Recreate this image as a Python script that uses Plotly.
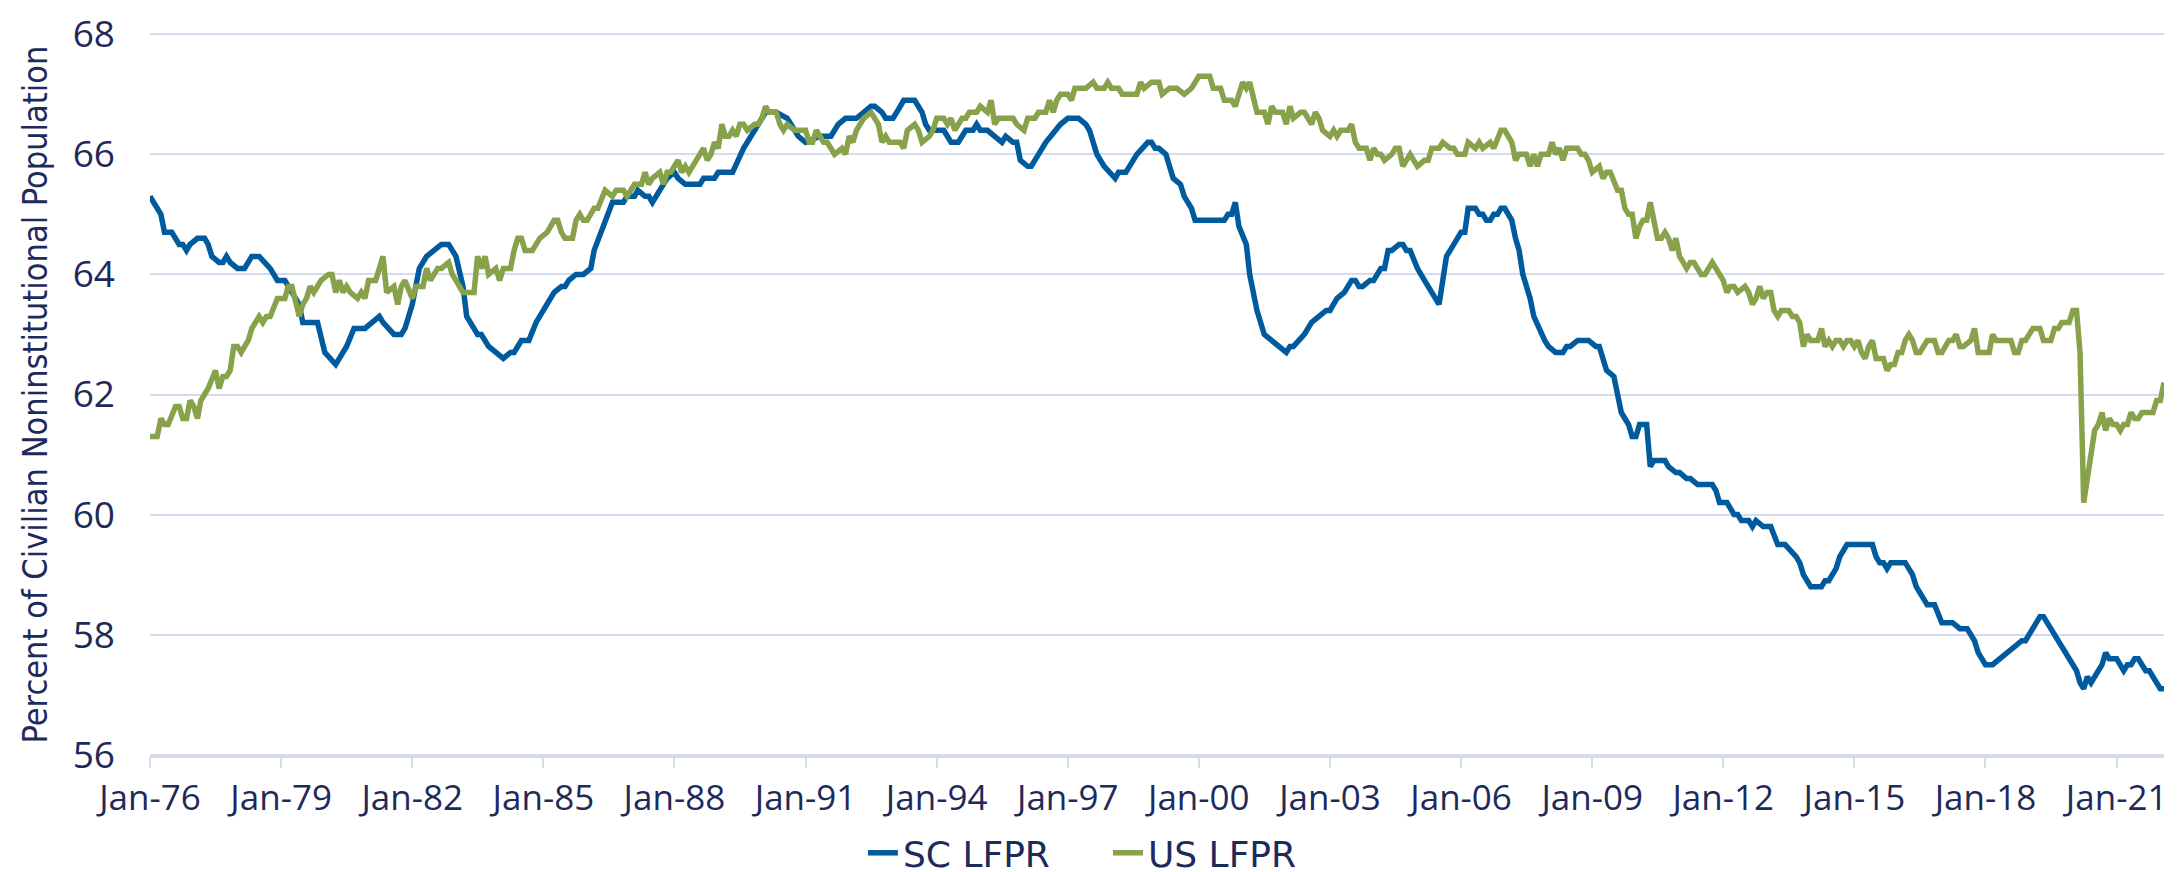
import pandas as pd
import plotly.graph_objects as go

sc_month = [0, 2, 3, 4, 6, 8, 9, 10, 11, 13, 15, 16, 17, 19, 20, 21, 22, 24, 26, 28, 30, 33, 35, 37, 39, 41, 42,
            46, 48, 51, 54, 56, 59, 61, 63, 64, 67, 69, 70, 72, 74, 76, 78, 80, 82, 84, 86, 87, 90, 91, 93, 95,
            97, 99, 100, 102, 104, 106, 108, 111, 113, 114, 115, 117, 119, 121, 122, 125, 127, 130, 131, 133,
            134, 136, 137, 138, 140, 142, 144, 145, 147, 148, 151, 152, 155, 156, 160, 163, 167, 169, 172, 175,
            176, 178, 180, 184, 187, 189, 191, 194, 196, 198, 199, 201, 202, 204, 205, 207, 210, 212, 213, 214,
            218, 220, 222, 224, 226, 227, 228, 230, 232, 234, 235, 237, 238, 239, 241, 242, 246, 250, 252, 255,
            257, 258, 259, 260, 262, 265, 266, 268, 271, 274, 275, 276, 277, 279, 280, 281, 283, 284, 286, 287,
            295, 296, 297, 298, 299, 301, 302, 304, 306, 308, 310, 312, 313, 314, 317, 319, 321, 323, 324, 326,
            328, 329, 330, 331, 332, 333, 335, 336, 338, 339, 340, 341, 343, 344, 345, 346, 348, 350, 354, 355,
            356, 358, 360, 361, 362, 364, 365, 366, 367, 368, 369, 370, 371, 372, 374, 375, 376, 377, 379, 380,
            382, 383, 384, 386, 388, 389, 390, 392, 395, 397, 398, 399, 400, 402, 403, 404, 405, 406, 407, 408,
            409, 411, 412, 413, 416, 417, 419, 420, 422, 423, 425, 429, 430, 431, 433, 435, 436, 437, 439, 440,
            441, 443, 445, 447, 449, 452, 453, 454, 456, 459, 460, 461, 463, 464, 466, 473, 474, 475, 476, 477,
            478, 482, 484, 485, 487, 488, 490, 492, 495, 497, 499, 501, 502, 503, 504, 506, 508, 510, 512, 514,
            515, 519, 520, 523, 525, 526, 528, 529, 530, 531, 532, 533, 535, 536, 537, 538, 540, 542, 543, 544,
            545, 546, 548, 549, 552, 553]
sc_value = [65.3, 65.1, 65.0, 64.7, 64.7, 64.5, 64.5, 64.4, 64.5, 64.6, 64.6, 64.5, 64.3, 64.2, 64.2, 64.3, 64.2,
            64.1, 64.1, 64.3, 64.3, 64.1, 63.9, 63.9, 63.7, 63.5, 63.2, 63.2, 62.7, 62.5, 62.8, 63.1, 63.1, 63.2,
            63.3, 63.2, 63.0, 63.0, 63.1, 63.5, 64.1, 64.3, 64.4, 64.5, 64.5, 64.3, 63.8, 63.3, 63.0, 63.0, 62.8,
            62.7, 62.6, 62.7, 62.7, 62.9, 62.9, 63.2, 63.4, 63.7, 63.8, 63.8, 63.9, 64.0, 64.0, 64.1, 64.4, 64.9,
            65.2, 65.2, 65.3, 65.3, 65.4, 65.3, 65.3, 65.2, 65.4, 65.6, 65.7, 65.6, 65.5, 65.5, 65.5, 65.6, 65.6,
            65.7, 65.7, 66.1, 66.5, 66.7, 66.7, 66.6, 66.5, 66.3, 66.2, 66.3, 66.3, 66.5, 66.6, 66.6, 66.7, 66.8,
            66.8, 66.7, 66.6, 66.6, 66.7, 66.9, 66.9, 66.7, 66.5, 66.4, 66.4, 66.2, 66.2, 66.4, 66.4, 66.5, 66.4,
            66.4, 66.3, 66.2, 66.3, 66.2, 66.2, 65.9, 65.8, 65.8, 66.2, 66.5, 66.6, 66.6, 66.5, 66.4, 66.2, 66.0,
            65.8, 65.6, 65.7, 65.7, 66.0, 66.2, 66.2, 66.1, 66.1, 66.0, 65.8, 65.6, 65.5, 65.3, 65.1, 64.9, 64.9,
            65.0, 65.0, 65.2, 64.8, 64.5, 64.0, 63.4, 63.0, 62.9, 62.8, 62.7, 62.8, 62.8, 63.0, 63.2, 63.3, 63.4,
            63.4, 63.6, 63.7, 63.8, 63.9, 63.9, 63.8, 63.8, 63.9, 63.9, 64.1, 64.1, 64.4, 64.4, 64.5, 64.5, 64.4,
            64.4, 64.1, 63.9, 63.5, 63.9, 64.3, 64.5, 64.7, 64.7, 65.1, 65.1, 65.0, 65.0, 64.9, 64.9, 65.0, 65.0,
            65.1, 65.1, 64.9, 64.6, 64.4, 64.0, 63.6, 63.3, 63.0, 62.9, 62.8, 62.7, 62.7, 62.8, 62.8, 62.9, 62.9,
            62.8, 62.8, 62.6, 62.4, 62.3, 62.0, 61.7, 61.6, 61.5, 61.3, 61.3, 61.5, 61.5, 60.8, 60.9, 60.9, 60.8,
            60.7, 60.7, 60.6, 60.6, 60.5, 60.5, 60.4, 60.2, 60.2, 60.0, 60.0, 59.9, 59.9, 59.8, 59.9, 59.8, 59.8,
            59.5, 59.5, 59.3, 59.2, 59.0, 58.8, 58.8, 58.9, 58.9, 59.1, 59.3, 59.5, 59.5, 59.3, 59.2, 59.2, 59.1,
            59.2, 59.2, 59.0, 58.8, 58.6, 58.5, 58.5, 58.2, 58.2, 58.1, 58.1, 57.9, 57.7, 57.6, 57.5, 57.5, 57.6,
            57.7, 57.8, 57.9, 57.9, 58.3, 58.3, 58.0, 57.8, 57.7, 57.5, 57.4, 57.2, 57.1, 57.3, 57.2, 57.4, 57.5,
            57.7, 57.6, 57.6, 57.4, 57.5, 57.5, 57.6, 57.6, 57.4, 57.4, 57.1, 57.1]

us_month = [0, 2, 3, 4, 5, 7, 8, 9, 10, 11, 12, 13, 14, 16, 18, 19, 20, 21, 22, 23, 24, 25, 27, 28, 30, 31, 32,
            33, 35, 37, 38, 39, 41, 42, 43, 44, 45, 47, 49, 50, 51, 52, 53, 54, 55, 57, 58, 59, 60, 62, 63, 64,
            65, 67, 68, 69, 70, 72, 73, 75, 76, 77, 79, 80, 82, 83, 84, 86, 87, 89, 90, 91, 92, 93, 95, 96, 97,
            99, 100, 101, 102, 103, 105, 107, 109, 111, 112, 113, 114, 116, 117, 118, 119, 120, 122, 123, 125,
            127, 128, 130, 131, 133, 135, 136, 137, 138, 140, 141, 142, 143, 145, 146, 147, 148, 150, 152, 153,
            154, 155, 156, 157, 158, 159, 160, 161, 162, 163, 164, 166, 167, 168, 169, 170, 172, 173, 174, 175,
            177, 180, 181, 182, 183, 185, 186, 188, 190, 191, 192, 193, 194, 196, 198, 200, 201, 202, 203, 206,
            207, 208, 210, 211, 212, 214, 215, 216, 218, 219, 220, 221, 223, 224, 225, 227, 228, 230, 231, 232,
            233, 237, 238, 240, 241, 243, 244, 246, 247, 248, 249, 250, 252, 253, 254, 257, 259, 260, 262, 263,
            264, 266, 267, 271, 272, 273, 275, 277, 278, 280, 282, 284, 286, 288, 291, 292, 294, 295, 297, 298,
            299, 300, 301, 302, 304, 306, 307, 308, 309, 311, 312, 313, 314, 316, 317, 319, 320, 321, 322, 324,
            325, 326, 327, 329, 330, 331, 332, 334, 335, 336, 337, 338, 339, 341, 342, 343, 344, 346, 348, 350,
            351, 352, 354, 355, 357, 358, 359, 361, 362, 364, 365, 366, 368, 369, 371, 372, 374, 375, 376, 378,
            379, 380, 381, 382, 384, 385, 386, 387, 388, 389, 392, 393, 394, 395, 396, 398, 399, 400, 401, 403,
            404, 405, 406, 407, 408, 409, 410, 411, 412, 413, 414, 415, 416, 417, 418, 419, 420, 421, 422, 423,
            424, 426, 427, 429, 430, 431, 432, 433, 434, 435, 436, 438, 439, 440, 441, 442, 443, 444, 445, 446,
            447, 448, 450, 451, 452, 453, 454, 455, 456, 458, 459, 460, 461, 462, 463, 464, 465, 466, 467, 468,
            469, 470, 471, 472, 473, 474, 476, 477, 478, 479, 480, 481, 482, 483, 484, 485, 486, 488, 490, 491,
            492, 494, 495, 496, 497, 498, 500, 501, 502, 505, 506, 507, 511, 512, 513, 514, 515, 517, 519, 520,
            522, 523, 524, 525, 527, 528, 529, 530, 531, 534, 535, 536, 537, 538, 539, 540, 541, 542, 543, 544,
            545, 546, 547, 550, 551, 552, 553]
us_value = [61.3, 61.3, 61.6, 61.5, 61.5, 61.8, 61.8, 61.6, 61.6, 61.9, 61.8, 61.6, 61.9, 62.1, 62.4, 62.1, 62.3,
            62.3, 62.4, 62.8, 62.8, 62.7, 62.9, 63.1, 63.3, 63.2, 63.3, 63.3, 63.6, 63.6, 63.8, 63.8, 63.3, 63.5,
            63.6, 63.8, 63.7, 63.9, 64.0, 64.0, 63.7, 63.9, 63.7, 63.8, 63.7, 63.6, 63.7, 63.6, 63.9, 63.9, 64.1,
            64.3, 63.7, 63.8, 63.5, 63.8, 63.9, 63.6, 63.8, 63.8, 64.1, 63.9, 64.1, 64.1, 64.2, 64.0, 63.9, 63.7,
            63.7, 63.7, 64.3, 64.1, 64.3, 64.0, 64.1, 63.9, 64.1, 64.1, 64.4, 64.6, 64.6, 64.4, 64.4, 64.6, 64.7,
            64.9, 64.9, 64.7, 64.6, 64.6, 64.9, 65.0, 64.9, 64.9, 65.1, 65.1, 65.4, 65.3, 65.4, 65.4, 65.3, 65.5,
            65.5, 65.7, 65.5, 65.6, 65.7, 65.5, 65.7, 65.7, 65.9, 65.7, 65.8, 65.7, 65.9, 66.1, 65.9, 66.0, 66.2,
            66.1, 66.5, 66.3, 66.3, 66.4, 66.3, 66.5, 66.5, 66.4, 66.5, 66.5, 66.6, 66.8, 66.7, 66.7, 66.5, 66.4,
            66.5, 66.4, 66.4, 66.2, 66.2, 66.4, 66.2, 66.2, 66.0, 66.1, 66.0, 66.3, 66.2, 66.4, 66.6, 66.7, 66.5,
            66.2, 66.3, 66.2, 66.2, 66.1, 66.4, 66.5, 66.4, 66.2, 66.3, 66.4, 66.6, 66.6, 66.5, 66.6, 66.4, 66.6,
            66.6, 66.7, 66.7, 66.8, 66.7, 66.9, 66.5, 66.6, 66.6, 66.5, 66.4, 66.6, 66.6, 66.7, 66.7, 66.9, 66.7,
            66.9, 67.0, 67.0, 66.9, 67.1, 67.1, 67.2, 67.1, 67.1, 67.2, 67.1, 67.1, 67.0, 67.0, 67.2, 67.1, 67.2,
            67.2, 67.0, 67.1, 67.1, 67.0, 67.1, 67.3, 67.3, 67.1, 67.1, 66.9, 66.9, 66.8, 67.0, 67.2, 67.1, 67.2,
            66.7, 66.7, 66.5, 66.8, 66.7, 66.7, 66.5, 66.8, 66.6, 66.7, 66.7, 66.5, 66.7, 66.6, 66.4, 66.3, 66.4,
            66.3, 66.4, 66.4, 66.5, 66.2, 66.1, 66.1, 65.9, 66.1, 66.0, 66.0, 65.9, 66.0, 66.1, 66.1, 65.8, 66.0,
            65.8, 65.9, 65.9, 66.1, 66.1, 66.2, 66.1, 66.1, 66.0, 66.0, 66.2, 66.1, 66.2, 66.1, 66.2, 66.1, 66.4,
            66.4, 66.2, 65.9, 66.0, 66.0, 65.8, 66.0, 65.8, 66.0, 66.0, 66.2, 66.0, 66.1, 65.9, 66.1, 66.1, 66.0,
            66.0, 65.9, 65.7, 65.8, 65.6, 65.7, 65.7, 65.4, 65.4, 65.1, 65.0, 65.0, 64.6, 64.8, 64.9, 64.9, 65.2,
            64.9, 64.6, 64.6, 64.7, 64.6, 64.4, 64.6, 64.3, 64.2, 64.1, 64.2, 64.2, 64.0, 64.0, 64.2, 64.1, 64.0,
            63.9, 63.7, 63.8, 63.8, 63.7, 63.8, 63.7, 63.5, 63.6, 63.8, 63.6, 63.7, 63.7, 63.4, 63.3, 63.4, 63.4,
            63.3, 63.3, 63.2, 62.8, 63.0, 62.9, 62.9, 63.1, 62.8, 62.9, 62.8, 62.9, 62.9, 62.8, 62.9, 62.9, 62.8,
            62.9, 62.7, 62.6, 62.8, 62.9, 62.6, 62.6, 62.4, 62.5, 62.5, 62.7, 62.7, 62.9, 63.0, 62.9, 62.7, 62.7,
            62.9, 62.9, 62.7, 62.7, 62.9, 62.9, 63.0, 62.8, 62.8, 62.9, 63.1, 62.7, 62.7, 63.0, 62.9, 62.9, 62.7,
            62.7, 62.9, 62.9, 63.1, 63.1, 62.9, 62.9, 63.1, 63.1, 63.2, 63.2, 63.4, 63.4, 62.7, 60.2, 61.4, 61.5,
            61.7, 61.4, 61.6, 61.5, 61.5, 61.4, 61.5, 61.5, 61.7, 61.6, 61.6, 61.7, 61.7, 61.9, 61.9, 62.2]

x_tick_labels = ["Jan-76", "Jan-79", "Jan-82", "Jan-85", "Jan-88", "Jan-91", "Jan-94", "Jan-97",
                 "Jan-00", "Jan-03", "Jan-06", "Jan-09", "Jan-12", "Jan-15", "Jan-18", "Jan-21"]
y_ticks = [56, 58, 60, 62, 64, 66, 68]

START = pd.Timestamp("1976-01-01")


def to_dates(months):
    return [START + pd.DateOffset(months=int(m)) for m in months]


tick_dates = [pd.Timestamp(f"{1976 + 3 * i}-01-01") for i in range(len(x_tick_labels))]

NAVY = "#1E2A5A"
GRID = "#D6DAEF"
BLUE = "#005A9E"
GREEN = "#88A24C"

fig = go.Figure()
fig.add_trace(go.Scatter(x=to_dates(sc_month), y=sc_value, mode="lines", name="SC LFPR",
                         line=dict(color=BLUE, width=5.5)))
fig.add_trace(go.Scatter(x=to_dates(us_month), y=us_value, mode="lines", name="US LFPR",
                         line=dict(color=GREEN, width=5.5)))

fig.update_layout(
    width=2183, height=872,
    margin=dict(l=142, r=27, t=25, b=124, autoexpand=False),
    paper_bgcolor="white", plot_bgcolor="white",
    font=dict(family="Open Sans, Lato, sans-serif", color=NAVY),
    showlegend=True,
    legend=dict(orientation="h", x=0.354, xanchor="left", y=-0.134, yanchor="middle",
                font=dict(family="DejaVu Sans, Open Sans, sans-serif", size=36, color=NAVY),
                entrywidth=200, entrywidthmode="pixels", traceorder="normal",
                bgcolor="rgba(0,0,0,0)"),
)
fig.update_xaxes(
    type="date",
    range=[START, START + pd.DateOffset(months=553)],
    tickvals=tick_dates, ticktext=x_tick_labels,
    tickfont=dict(size=35, color=NAVY),
    showgrid=False, zeroline=False,
    showline=True, linecolor=GRID, linewidth=2,
    ticks="outside", ticklen=10, tickwidth=2, tickcolor=GRID,
)
fig.update_yaxes(
    range=[55.98, 68.02], tickvals=y_ticks,
    tickfont=dict(size=37, color=NAVY),
    showgrid=True, gridcolor=GRID, gridwidth=2, zeroline=False, showline=False,
    ticks="", ticklabelstandoff=34, ticklabeloverflow="allow",
    title=dict(text="Percent of Civilian Noninstitutional Population",
               font=dict(family="Liberation Sans Narrow, DejaVu Sans Condensed, Roboto, sans-serif",
                         size=34, color=NAVY),
               standoff=14),
)

fig.write_html("out.html")
